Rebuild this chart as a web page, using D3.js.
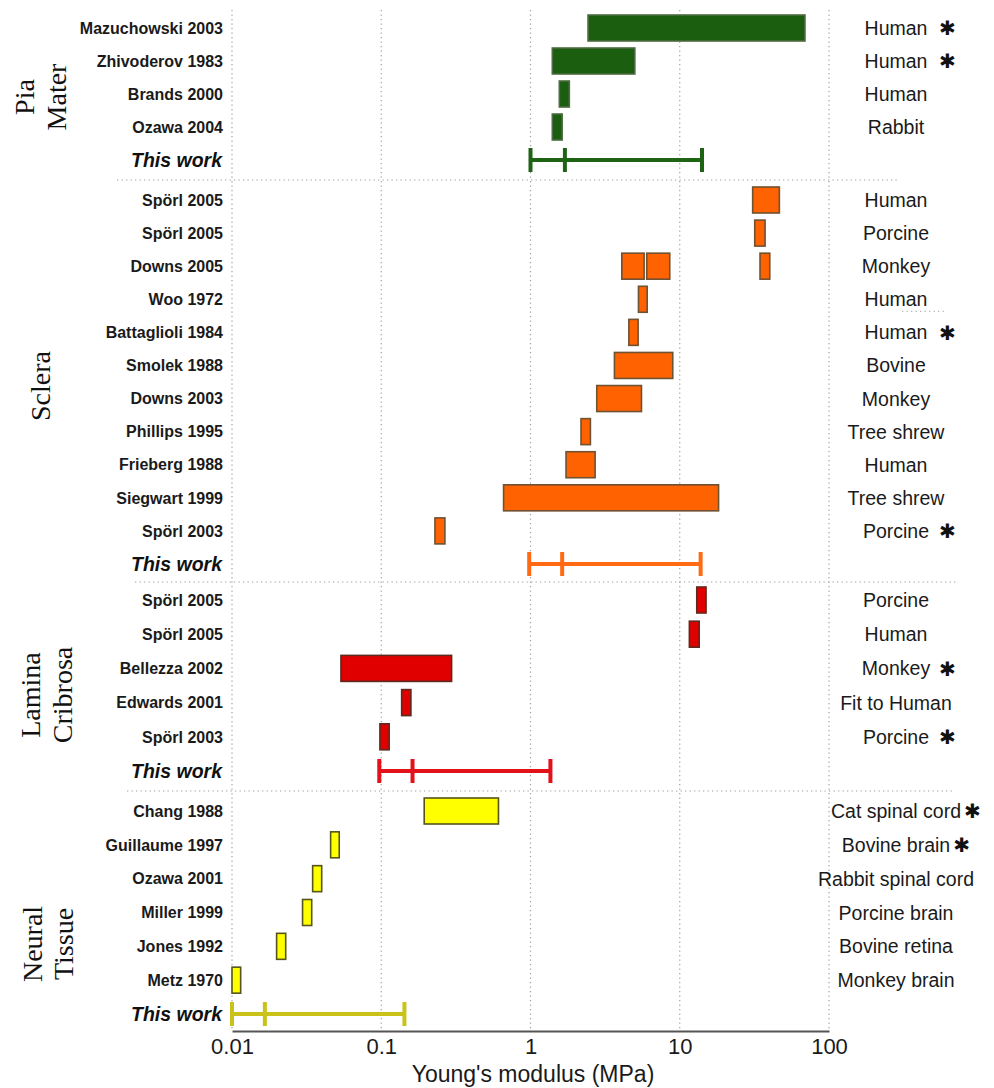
<!DOCTYPE html>
<html><head><meta charset="utf-8">
<script src="https://cdn.jsdelivr.net/npm/d3@7"></script>
<style>body{margin:0;background:#fff} svg{display:block}</style>
</head><body><svg id="c" width="994" height="1088"></svg>
<script>
// ---------- DATA ----------
const groups = ["Pia Mater", "Sclera", "Lamina Cribrosa", "Neural Tissue"];
const groupLines = [["Pia", "Mater"], ["Sclera"], ["Lamina", "Cribrosa"], ["Neural", "Tissue"]];
const studies = ["Mazuchowski 2003", "Zhivoderov 1983", "Brands 2000", "Ozawa 2004",
  "Spörl 2005", "Spörl 2005", "Downs 2005", "Woo 1972", "Battaglioli 1984", "Smolek 1988",
  "Downs 2003", "Phillips 1995", "Frieberg 1988", "Siegwart 1999", "Spörl 2003",
  "Spörl 2005", "Spörl 2005", "Bellezza 2002", "Edwards 2001", "Spörl 2003",
  "Chang 1988", "Guillaume 1997", "Ozawa 2001", "Miller 1999", "Jones 1992", "Metz 1970"];
const studyGroup = [0, 0, 0, 0, 1, 1, 1, 1, 1, 1, 1, 1, 1, 1, 1, 2, 2, 2, 2, 2, 3, 3, 3, 3, 3, 3];
const species = ["Human", "Human", "Human", "Rabbit",
  "Human", "Porcine", "Monkey", "Human", "Human", "Bovine", "Monkey", "Tree shrew", "Human", "Tree shrew", "Porcine",
  "Porcine", "Human", "Monkey", "Fit to Human", "Porcine",
  "Cat spinal cord", "Bovine brain", "Rabbit spinal cord", "Porcine brain", "Bovine retina", "Monkey brain"];
const starred = [true, true, false, false,
  false, false, false, false, true, false, false, false, false, false, true,
  false, false, true, false, true,
  true, true, false, false, false, false];
// literature ranges of Young's modulus (MPa); a study may have several boxes
const barStudy = [0, 1, 2, 3, 4, 5, 6, 6, 6, 7, 8, 9, 10, 11, 12, 13, 14, 15, 16, 17, 18, 19, 20, 21, 22, 23, 24, 25];
const barLow  = [2.43, 1.40, 1.56, 1.40, 30.8, 31.8, 4.09, 6.01, 34.5, 5.29, 4.56, 3.65, 2.78, 2.18, 1.73, 0.66, 0.229,
  13.0, 11.6, 0.0537, 0.137, 0.098, 0.194, 0.0458, 0.0347, 0.0297, 0.0199, 0.0100];
const barHigh = [69.0, 5.0, 1.82, 1.63, 46.5, 37.3, 5.77, 8.57, 40.1, 6.05, 5.26, 8.98, 5.54, 2.52, 2.71, 18.2, 0.267,
  15.0, 13.5, 0.296, 0.158, 0.113, 0.61, 0.0523, 0.0399, 0.0342, 0.0229, 0.01143];
// "This work" ranges per group
const thisWorkMin = [1.0, 0.98, 0.097, 0.010];
const thisWorkMid = [1.7, 1.63, 0.162, 0.0166];
const thisWorkMax = [14.1, 13.8, 1.36, 0.143];
const xTicks = [0.01, 0.1, 1, 10, 100];
const xTickLabels = ["0.01", "0.1", "1", "10", "100"];
const xTitle = "Young's modulus (MPa)";
const thisWorkLabel = "This work";
const starGlyph = "\u2731";

// ---------- STYLE / LAYOUT ----------
const fills   = ["#1b5e0f", "#ff6200", "#e00000", "#ffff00"];
const strokes = ["#4d6b40", "#6e5232", "#5e2a1e", "#55551a"];
const twColors = ["#1e6414", "#ff6a12", "#e3111a", "#c9c21a"];
const groupRanges = [[28, 160], [200, 564], [600, 771], [811, 1014]];
const groupLabelY = [97, 386, 695, 944];
const groupLabelBase = [[34, 66], [50], [40, 72], [42, 73]];
const sepX = [[117, 900], [135, 958], [127, 953]];
const axisY = 1031, gridTop = 10;
const barH = 26;

const svg = d3.select("#c");
const x = d3.scaleLog().domain([0.01, 100]).range([232, 829]);

// per-group row scales
const rowsByGroup = groups.map((g, gi) => {
  const idx = studies.map((s, i) => i).filter(i => studyGroup[i] === gi);
  return idx.map(String).concat(["tw" + gi]);
});
const yScales = rowsByGroup.map((rows, gi) => d3.scalePoint().domain(rows).range(groupRanges[gi]));
const yOf = i => yScales[studyGroup[i]](String(i));
const yTW = gi => yScales[gi]("tw" + gi);

// grid lines
const grid = svg.append("g");
const dot = sel => sel.attr("stroke", "#a0a0a0").attr("stroke-width", 1.2).attr("stroke-dasharray", "1.3,3.2");
grid.selectAll("line.v").data(xTicks).join("line")
  .attr("x1", d => x(d)).attr("x2", d => x(d))
  .attr("y1", gridTop).attr("y2", axisY).call(dot);
// group separators
const sepY = [0, 1, 2].map(gi => (yTW(gi) + yScales[gi + 1](yScales[gi + 1].domain()[0])) / 2);
grid.selectAll("line.h").data(sepY).join("line")
  .attr("x1", (d, i) => sepX[i][0]).attr("x2", (d, i) => sepX[i][1])
  .attr("y1", d => d).attr("y2", d => d).call(dot);
// stray dotted mark near Woo 1972 label
grid.append("line").attr("x1", 902).attr("x2", 944).attr("y1", yOf(7) + 12).attr("y2", yOf(7) + 12).call(dot);

// bars
svg.append("g").selectAll("rect").data(barStudy.map((s, i) => i)).join("rect")
  .attr("x", i => x(barLow[i]))
  .attr("width", i => x(barHigh[i]) - x(barLow[i]))
  .attr("y", i => yOf(barStudy[i]) - barH / 2)
  .attr("height", barH)
  .attr("fill", i => fills[studyGroup[barStudy[i]]])
  .attr("stroke", i => strokes[studyGroup[barStudy[i]]])
  .attr("stroke-width", 1.6);

// this work range bars
const tw = svg.append("g");
groups.forEach((g, gi) => {
  const y = yTW(gi);
  tw.append("line").attr("x1", x(thisWorkMin[gi])).attr("x2", x(thisWorkMax[gi]))
    .attr("y1", y).attr("y2", y).attr("stroke", twColors[gi]).attr("stroke-width", 4);
  [thisWorkMin[gi], thisWorkMid[gi], thisWorkMax[gi]].forEach(v => {
    tw.append("line").attr("x1", x(v)).attr("x2", x(v))
      .attr("y1", y - 12).attr("y2", y + 12).attr("stroke", twColors[gi]).attr("stroke-width", 4);
  });
});

// left study labels
const lab = svg.append("g").attr("font-family", "'Liberation Sans', Arial, sans-serif");
lab.selectAll("text.s").data(studies.map((s, i) => i)).join("text")
  .attr("x", 223).attr("y", i => yOf(i)).attr("dy", "0.36em")
  .attr("text-anchor", "end").attr("font-size", 16).attr("font-weight", "bold").attr("fill", "#1a1a1a")
  .text(i => studies[i]);
lab.selectAll("text.tw").data(groups.map((g, i) => i)).join("text")
  .attr("x", 222).attr("y", gi => yTW(gi)).attr("dy", "0.36em")
  .attr("text-anchor", "end").attr("font-size", 19.5).attr("font-weight", "bold").attr("font-style", "italic")
  .attr("fill", "#111").text(thisWorkLabel);

// right species labels + stars
const sp = svg.append("g").attr("font-family", "'Liberation Sans', Arial, sans-serif");
studies.forEach((s, i) => {
  const t = sp.append("text").attr("x", 896).attr("y", yOf(i)).attr("dy", "0.36em")
    .attr("text-anchor", "middle").attr("font-size", 19.5).attr("fill", "#1a1a1a").text(species[i]);
  if (starred[i]) {
    const w = t.node().getComputedTextLength();
    const sx = Math.max(939, 896 + w / 2 + 3);
    sp.append("text").attr("x", sx).attr("y", yOf(i)).attr("dy", "0.36em")
      .attr("font-family", "'DejaVu Sans', sans-serif")
      .attr("font-size", 20).attr("fill", "#111").text(starGlyph);
  }
});

// group titles (rotated)
const gt = svg.append("g").attr("font-family", "'Liberation Serif', 'Times New Roman', serif")
  .attr("font-size", 28).attr("fill", "#111");
groups.forEach((g, gi) => {
  groupLines[gi].forEach((ln, li) => {
    gt.append("text").attr("transform", `translate(${groupLabelBase[gi][li]},${groupLabelY[gi]}) rotate(-90)`)
      .attr("text-anchor", "middle").text(ln);
  });
});

// x axis
const ax = svg.append("g").attr("transform", `translate(0,${axisY})`)
  .call(d3.axisBottom(x).tickValues(xTicks).tickFormat((d, i) => xTickLabels[i]).tickSize(0).tickPadding(7));
ax.select(".domain").attr("stroke", "#555").attr("stroke-width", 2.2);
ax.selectAll("text").attr("font-family", "'Liberation Sans', Arial, sans-serif").attr("font-size", 22).attr("fill", "#1a1a1a");
svg.append("text").attr("x", 533).attr("y", 1082).attr("text-anchor", "middle")
  .attr("font-family", "'Liberation Sans', Arial, sans-serif").attr("font-size", 23).attr("fill", "#1a1a1a")
  .text(xTitle);
</script></body></html>
